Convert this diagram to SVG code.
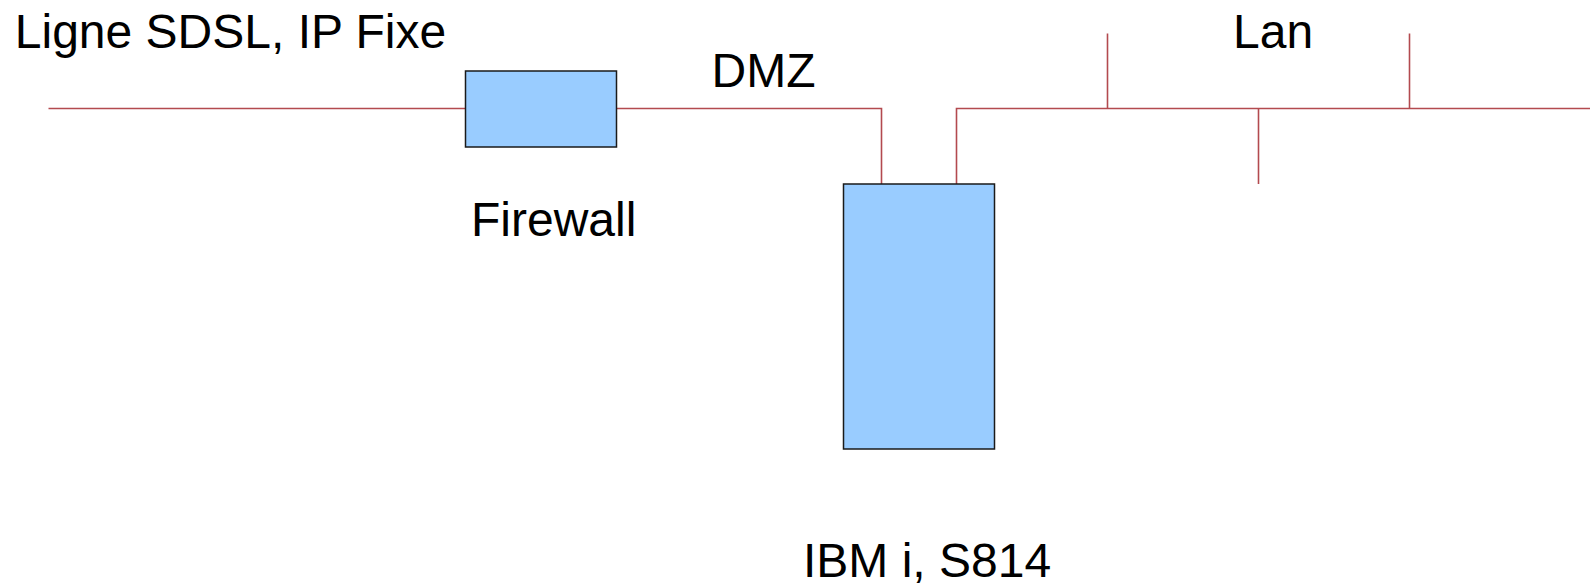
<svg xmlns="http://www.w3.org/2000/svg" width="1590" height="587" viewBox="0 0 1590 587">
<style>
.t{font-family:"Liberation Sans",Arial,sans-serif;font-size:48px;fill:#000}
.w{fill:none;stroke:#b34a4f;stroke-width:1.6}
.n{fill:#99ccff;stroke:#1a1a1a;stroke-width:1.5}
</style>
<rect width="1590" height="587" fill="#fff"/>
<g id="connectors">
<polyline class="w" points="48.5,108.5 465.5,108.5"/>
<polyline class="w" points="616.5,108.5 881.5,108.5 881.5,184"/>
<polyline class="w" points="956.5,184 956.5,108.5 1590,108.5"/>
<line class="w" x1="1107.5" y1="33.5" x2="1107.5" y2="108.5"/>
<line class="w" x1="1409.5" y1="33.5" x2="1409.5" y2="108.5"/>
<line class="w" x1="1258.5" y1="108.5" x2="1258.5" y2="184"/>
</g>
<g id="firewall">
<rect class="n" x="465.5" y="71" width="151" height="76"/>
<text class="t" x="471" y="236">Firewall</text>
</g>
<g id="server">
<rect class="n" x="843.5" y="184" width="151" height="265"/>
<text class="t" x="803" y="576.5">IBM i, S814</text>
</g>
<g id="labels">
<text class="t" x="14.8" y="47.7">Ligne SDSL, IP Fixe</text>
<text class="t" x="711.5" y="86.7">DMZ</text>
<text class="t" x="1233" y="48.3">Lan</text>
</g>
</svg>
